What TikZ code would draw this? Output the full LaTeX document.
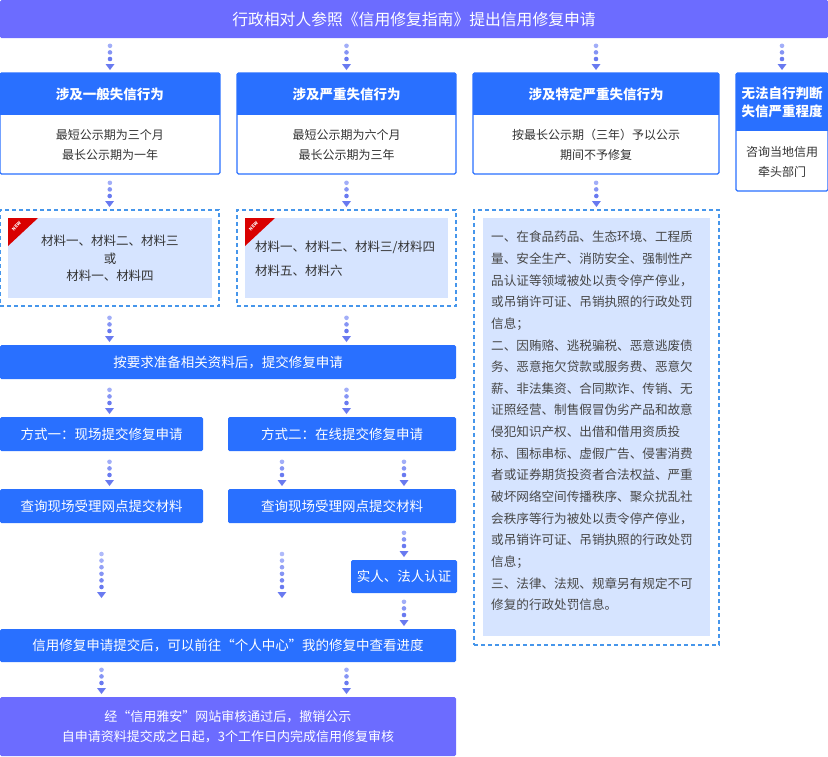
\documentclass[tikz,border=0pt]{standalone}
\usepackage{fontspec}
\setmainfont{Noto Sans CJK SC}
\usetikzlibrary{calc}
\definecolor{hdrblue}{RGB}{41,112,255}
\definecolor{barpurple}{RGB}{108,108,255}
\definecolor{paleblue}{RGB}{214,228,255}
\definecolor{dashblue}{RGB}{70,150,235}
\definecolor{txtgray}{RGB}{51,51,51}
\definecolor{dotlight}{RGB}{210,218,255}
\definecolor{dotdark}{RGB}{105,122,240}
\newcommand\fs[2]{\fontsize{#1}{#2}\selectfont}
\newcommand\flow[3]{%
  \coordinate (fs) at #1; \coordinate (fe) at #2;
  \foreach \k in {1,...,#3}{%
    \pgfmathsetmacro\dd{14+(#3-\k)*6.6}%
    \pgfmathtruncatemacro\pc{20+80*\k/#3}%
    \fill[dotdark!\pc!dotlight] ($(fe)!\dd pt!(fs)$) circle (2.3pt);
  }
  \fill[dotdark] ($(fe)!3pt!(fs)$) -- ($(fe)!9pt!(fs)+(4.5pt,0)$) -- ($(fe)!9pt!(fs)+(-4.5pt,0)$) -- cycle;
}
\tikzset{
  base/.style={inner sep=0pt, outer sep=0pt, anchor=north west},
  bluebar/.style={base, fill=hdrblue, rounded corners=1.5pt, text=white, font=\fs{13.5}{18}},
  purplebar/.style={base, fill=barpurple, rounded corners=1.5pt, text=white},
  head/.style={base, fill=hdrblue, text=white, align=center, font=\bfseries\fs{13.5}{18}},
  bodybox/.style={base, fill=white, draw=hdrblue, line width=1.3pt, rounded corners=1.5pt},
  dashbox/.style={base, draw=dashblue, line width=1.4pt, dash pattern=on 4pt off 3pt},
  innerbox/.style={base, fill=paleblue},
  bodytxt/.style={inner sep=0pt, text=txtgray, align=center, font=\fs{12}{20}},
  newtag/.style={inner sep=0pt, rotate=45, text=white, font=\bfseries\fs{4.5}{5}},
}
\begin{document}
\begin{tikzpicture}[x=1pt,y=-1pt]
\useasboundingbox (0,0) rectangle (828,756);

% top bar
\node[purplebar, minimum width=828pt, minimum height=38pt, font=\fs{15.8}{18}] (top) at (0,0) {行政相对人参照《信用修复指南》提出信用修复申请};

% four category boxes
\node[bodybox, minimum width=220pt, minimum height=101pt] (b1) at (0,73) {};
\node[head, minimum width=220pt, minimum height=42pt] (h1) at (0,73) {涉及一般失信行为};
\node[bodytxt] (t1) at (110,144.5) {最短公示期为三个月\\最长公示期为一年};

\node[bodybox, minimum width=219pt, minimum height=101pt] (b2) at (237,73) {};
\node[head, minimum width=219pt, minimum height=42pt] (h2) at (237,73) {涉及严重失信行为};
\node[bodytxt] (t2) at (346.5,144.5) {最短公示期为六个月\\最长公示期为三年};

\node[bodybox, minimum width=246pt, minimum height=101pt] (b3) at (473,73) {};
\node[head, minimum width=246pt, minimum height=42pt] (h3) at (473,73) {涉及特定严重失信行为};
\node[bodytxt] (t3) at (596,144.5) {按最长公示期（三年）予以公示\\期间不予修复};

\node[bodybox, minimum width=92pt, minimum height=118pt] (b4) at (736,73) {};
\node[head, minimum width=92pt, minimum height=58pt] (h4) at (736,73) {无法自行判断\\失信严重程度};
\node[bodytxt] (t4) at (782,162) {咨询当地信用\\牵头部门};

% dashed material boxes
\node[dashbox, minimum width=219pt, minimum height=96pt] (dA) at (0,210) {};
\node[innerbox, minimum width=204pt, minimum height=80pt] (iA) at (8,218) {};
\fill[red!85!black] (iA.north west) -- ++(30,0) -- ++(-30,28) -- cycle;
\node[newtag] (newA) at (16.5,226.5) {NEW};
\node[bodytxt, font=\fs{12.5}{17.5}] (tA) at (110,258.5) {材料一、材料二、材料三\\或\\材料一、材料四};

\node[dashbox, minimum width=219pt, minimum height=96pt] (dB) at (237,210) {};
\node[innerbox, minimum width=203pt, minimum height=80pt] (iB) at (245,218) {};
\fill[red!85!black] (iB.north west) -- ++(30,0) -- ++(-30,28) -- cycle;
\node[newtag] (newB) at (253.5,226.5) {NEW};
\node[bodytxt, align=left, anchor=west, font=\fs{12.5}{23.5}] (tB) at (255,258.5) {材料一、材料二、材料三/材料四\\材料五、材料六};

\node[dashbox, minimum width=245pt, minimum height=435pt] (dC) at (474,210) {};
\node[innerbox, minimum width=227pt, minimum height=418pt] (iC) at (483,218) {};
\node[bodytxt, align=left, anchor=west, font=\fs{12.6}{21.65}, text=txtgray!90!white] (tC) at (491,421) {一、在食品药品、生态环境、工程质\\量、安全生产、消防安全、强制性产\\品认证等领域被处以责令停产停业，\\或吊销许可证、吊销执照的行政处罚\\信息；\\二、因贿赂、逃税骗税、恶意逃废债\\务、恶意拖欠贷款或服务费、恶意欠\\薪、非法集资、合同欺诈、传销、无\\证照经营、制售假冒伪劣产品和故意\\侵犯知识产权、出借和借用资质投\\标、围标串标、虚假广告、侵害消费\\者或证券期货投资者合法权益、严重\\破坏网络空间传播秩序、聚众扰乱社\\会秩序等行为被处以责令停产停业，\\或吊销许可证、吊销执照的行政处罚\\信息；\\三、法律、法规、规章另有规定不可\\修复的行政处罚信息。};

% process bars
\node[bluebar, minimum width=456pt, minimum height=34pt] (prep) at (0,345) {按要求准备相关资料后，提交修复申请};
\node[bluebar, minimum width=203pt, minimum height=34pt] (m1) at (0,417) {方式一：现场提交修复申请};
\node[bluebar, minimum width=228pt, minimum height=34pt] (m2) at (228,417) {方式二：在线提交修复申请};
\node[bluebar, minimum width=203pt, minimum height=34pt] (q1) at (0,489) {查询现场受理网点提交材料};
\node[bluebar, minimum width=228pt, minimum height=34pt] (q2) at (228,489) {查询现场受理网点提交材料};
\node[bluebar, minimum width=106pt, minimum height=33pt] (auth) at (351,560) {实人、法人认证};
\node[bluebar, minimum width=456pt, minimum height=33pt] (prog) at (0,629) {信用修复申请提交后，可以前往“个人中心”我的修复中查看进度};
\node[purplebar, minimum width=456pt, minimum height=59pt, align=center, font=\fs{13}{20}] (fin) at (0,697) {经“信用雅安”网站审核通过后，撤销公示\\自申请资料提交成之日起，3个工作日内完成信用修复审核};

\coordinate (colL) at (282,0);

% connectors
\flow{(h1.north |- top.south)}{(h1.north)}{3}
\flow{(h2.north |- top.south)}{(h2.north)}{3}
\flow{(h3.north |- top.south)}{(h3.north)}{3}
\flow{(h4.north |- top.south)}{(h4.north)}{3}
\flow{(b1.south)}{(dA.north)}{3}
\flow{(b2.south)}{(dB.north)}{3}
\flow{(b3.south)}{(dC.north)}{3}
\flow{(dA.south)}{(dA.south |- prep.north)}{3}
\flow{(dB.south)}{(dB.south |- prep.north)}{3}
\flow{(dA.south |- prep.south)}{(dA.south |- m1.north)}{3}
\flow{(dB.south |- prep.south)}{(dB.south |- m2.north)}{3}
\flow{(dA.south |- m1.south)}{(dA.south |- q1.north)}{3}
\flow{(colL |- m2.south)}{(colL |- q2.north)}{3}
\flow{(auth.north |- m2.south)}{(auth.north |- q2.north)}{3}
\flow{(auth.north |- q2.south)}{(auth.north)}{3}
\flow{($(q1.south)+(0,24)$)}{($(q1.south |- prog.north)+(0,-28)$)}{6}
\flow{($(colL |- q2.south)+(0,24)$)}{($(colL |- prog.north)+(0,-28)$)}{6}
\flow{(auth.south)}{(auth.south |- prog.north)}{3}
\flow{(q1.south |- prog.south)}{(q1.south |- fin.north)}{3}
\flow{(dB.south |- prog.south)}{(dB.south |- fin.north)}{3}
\end{tikzpicture}
\end{document}
